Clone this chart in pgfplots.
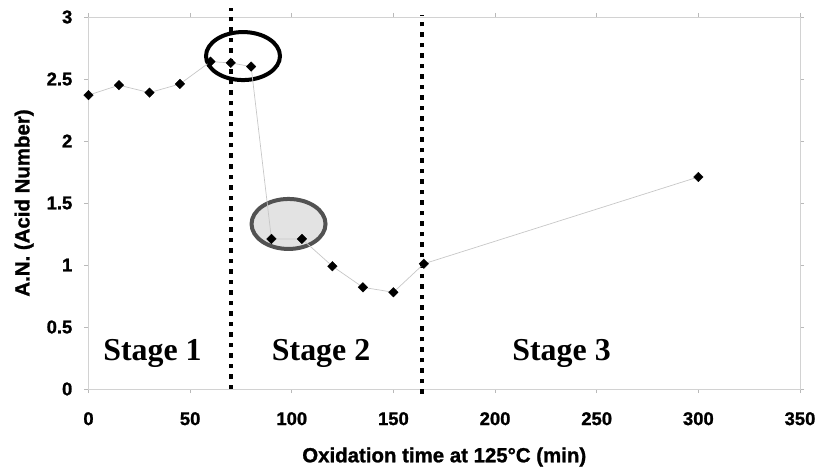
\documentclass[border=0pt]{standalone}
\usepackage{pgfplots}
\pgfplotsset{compat=1.18}
\usepackage{fontspec}
\setmainfont{Liberation Sans}[BoldFeatures={FakeBold=1.2}]
\newfontfamily\stagefont{Liberation Serif}

\pgfplotstableread{
t    an
0    2.37
15   2.45
30   2.39
45   2.46
60   2.64
70   2.63
80   2.60
90   1.21
105  1.21
120  0.99
135  0.82
150  0.78
165  1.01
300  1.71
}\acidnumber

\begin{document}
\begin{tikzpicture}
\begin{axis}[
  scale only axis,
  width=711.5bp, height=372bp,
  xmin=0, xmax=350, ymin=0, ymax=3,
  xtick={0,50,...,350},
  ytick={0,0.5,...,3},
  /pgf/number format/assume math mode=true,
  tick label style={font=\bfseries\fontsize{18.5}{19}\selectfont, inner sep=0pt},
  yticklabel style={anchor=east, xshift=-12bp},
  xticklabel style={anchor=north, yshift=-19bp},
  tick align=outside,
  major tick length=4bp,
  tick style={gray!55, line width=0.6bp},
  axis line style={gray!35, line width=0.8bp},
  xlabel={Oxidation time at 125\textdegree C (min)},
  ylabel={A.N. (Acid Number)},
  label style={font=\bfseries\fontsize{20.5}{21}\selectfont},
  xlabel style={at={(axis description cs:0.5,-0.1828)}, anchor=center},
  ylabel style={at={(axis description cs:-0.0905,0.5)}, anchor=center},
  clip=false,
]
% highlighted regions
\draw[line width=4bp, draw=black!68, fill=black!11]
  (axis cs:98.4,1.331) ellipse [x radius=37bp, y radius=25bp];
\draw[line width=4bp, black]
  (axis cs:76.0,2.685) ellipse [x radius=37bp, y radius=24bp];

% stage boundaries
\draw[line width=4.5bp, dash pattern=on 4.5bp off 6bp]
  (axis cs:70,0) -- (axis cs:70,3.07);
\draw[line width=4.5bp, dash pattern=on 4.5bp off 6bp]
  (axis cs:164,-0.04) -- (axis cs:164,3.02);

% stage names
\node[anchor=base, font=\stagefont\bfseries\fontsize{32}{32}\selectfont]
  at (axis cs:31.5,0.226) {Stage 1};
\node[anchor=base, font=\stagefont\bfseries\fontsize{32}{32}\selectfont]
  at (axis cs:114.4,0.226) {Stage 2};
\node[anchor=base, font=\stagefont\bfseries\fontsize{32}{32}\selectfont]
  at (axis cs:232.7,0.226) {Stage 3};

% acid number over time
\addplot[draw=black!22, line width=0.7bp,
  mark=square*, mark size=3.4bp,
  mark options={rotate=45, fill=black, draw=black, line width=0.3bp}]
  table[x=t, y=an] {\acidnumber};
\end{axis}
\pgfresetboundingbox
\path ([shift={(-88.5bp,-80bp)}]current axis.south west)
  rectangle ([shift={(17bp,17bp)}]current axis.north east);
\end{tikzpicture}
\end{document}
